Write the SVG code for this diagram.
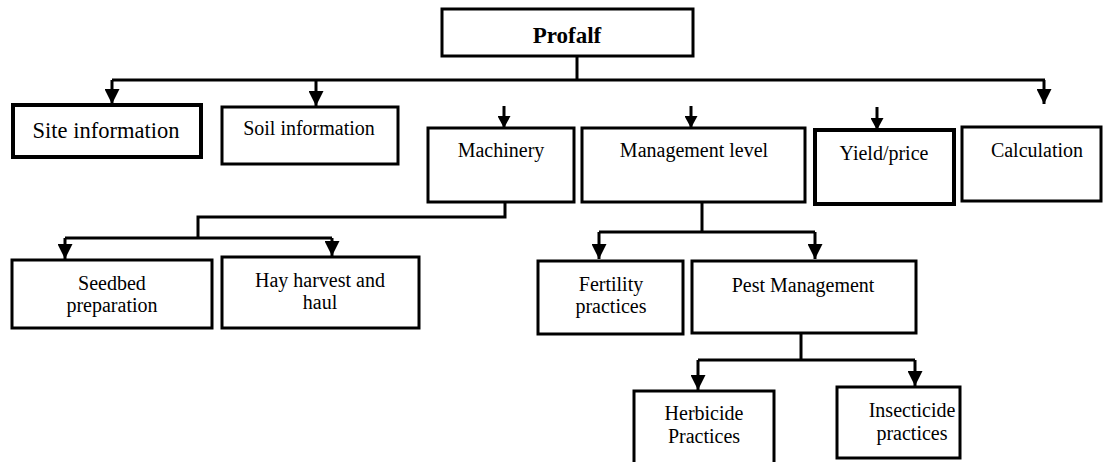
<svg xmlns="http://www.w3.org/2000/svg" width="1104" height="462" viewBox="0 0 1104 462">
<style>
.box{fill:#fff;stroke:#000;stroke-width:3}
.thick{stroke-width:4}
text{font-family:'Liberation Serif','Times New Roman','DejaVu Serif',serif;font-size:20px;fill:#000;text-anchor:middle}
.c{fill:none;stroke:#000;stroke-width:3}
</style>
<defs>
<marker id="ah" markerUnits="userSpaceOnUse" markerWidth="15" markerHeight="15" viewBox="0 0 15 15" refX="15" refY="7.5" orient="auto">
<path d="M0,0 L15,7.5 L0,15 Z" fill="#000"/>
</marker>
<marker id="ahs" markerUnits="userSpaceOnUse" markerWidth="12" markerHeight="13" viewBox="0 0 12 13" refX="12" refY="6.5" orient="auto">
<path d="M0,0 L12,6.5 L0,13 Z" fill="#000"/>
</marker>
</defs>
<rect width="1104" height="462" fill="#fff"/>
<g id="connectors">
<path class="c" d="M577,56 V80"/>
<path class="c" d="M112,80 H1045"/>
<path class="c" d="M112,80 V104" marker-end="url(#ah)"/>
<path class="c" d="M316,80 V106" marker-end="url(#ah)"/>
<path class="c" d="M1044,80 V104" marker-end="url(#ah)"/>
<path class="c" d="M504,106 V128" marker-end="url(#ahs)"/>
<path class="c" d="M691,106 V128" marker-end="url(#ahs)"/>
<path class="c" d="M877,107 V130" marker-end="url(#ahs)"/>
<path class="c" d="M505,202 V217 H198 V238"/>
<path class="c" d="M65,238 H332"/>
<path class="c" d="M65,238 V259" marker-end="url(#ah)"/>
<path class="c" d="M332,238 V256" marker-end="url(#ah)"/>
<path class="c" d="M702,202 V232"/>
<path class="c" d="M599,232 H815"/>
<path class="c" d="M599,232 V259" marker-end="url(#ah)"/>
<path class="c" d="M815,232 V259" marker-end="url(#ah)"/>
<path class="c" d="M801,333 V360"/>
<path class="c" d="M698,360 H915"/>
<path class="c" d="M698,360 V390" marker-end="url(#ah)"/>
<path class="c" d="M915,360 V386" marker-end="url(#ah)"/>
</g>
<g id="profalf">
<rect class="box" x="442" y="9" width="251" height="47"/>
<text x="567" y="43" style="font-weight:bold;font-size:23px">Profalf</text>
</g>
<g id="site">
<rect class="box thick" x="13" y="105" width="188" height="52"/>
<text x="106" y="138" style="font-size:22.5px">Site information</text>
</g>
<g id="soil">
<rect class="box" x="222" y="107" width="176" height="57"/>
<text x="309" y="135">Soil information</text>
</g>
<g id="machinery">
<rect class="box" x="428" y="128" width="146" height="74"/>
<text x="501" y="157">Machinery</text>
</g>
<g id="management">
<rect class="box" x="582" y="128" width="223" height="74"/>
<text x="694" y="157">Management level</text>
</g>
<g id="yield">
<rect class="box thick" x="815" y="130" width="139" height="74"/>
<text x="884" y="160">Yield/price</text>
</g>
<g id="calculation">
<rect class="box" x="962" y="127" width="139" height="74"/>
<text x="1037" y="157">Calculation</text>
</g>
<g id="seedbed">
<rect class="box" x="12" y="260" width="200" height="68"/>
<text x="112" y="290">Seedbed</text>
<text x="112" y="312">preparation</text>
</g>
<g id="hay">
<rect class="box" x="222" y="257" width="197" height="71"/>
<text x="320" y="287">Hay harvest and</text>
<text x="320" y="309">haul</text>
</g>
<g id="fertility">
<rect class="box" x="538" y="261" width="145" height="73"/>
<text x="611" y="291">Fertility</text>
<text x="611" y="313">practices</text>
</g>
<g id="pest">
<rect class="box" x="692" y="261" width="224" height="72"/>
<text x="803" y="292">Pest Management</text>
</g>
<g id="herbicide">
<rect class="box" x="634" y="391" width="140" height="80"/>
<text x="704" y="420">Herbicide</text>
<text x="704" y="443">Practices</text>
</g>
<g id="insecticide">
<rect class="box" x="837" y="387" width="123" height="71"/>
<text x="912" y="417">Insecticide</text>
<text x="912" y="440">practices</text>
</g>
</svg>
